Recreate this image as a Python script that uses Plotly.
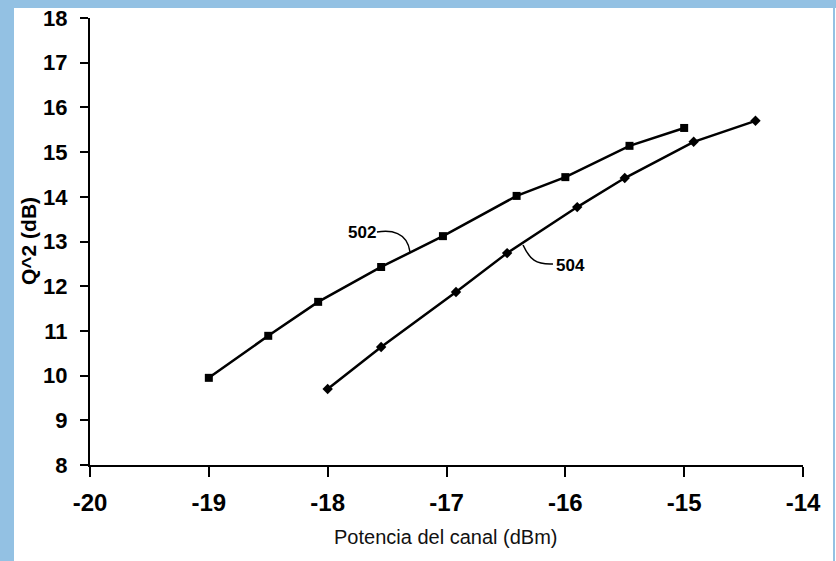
import plotly.graph_objects as go

# Data
x_502 = [-19.0, -18.5, -18.08, -17.55, -17.03, -16.41, -16.0, -15.46, -15.0]
y_502 = [9.95, 10.89, 11.65, 12.43, 13.12, 14.02, 14.44, 15.14, 15.54]

x_504 = [-18.0, -17.55, -16.92, -16.49, -15.9, -15.5, -14.92, -14.4]
y_504 = [9.70, 10.64, 11.87, 12.74, 13.77, 14.42, 15.23, 15.70]

x_ticks = [-20, -19, -18, -17, -16, -15, -14]
y_ticks = [8, 9, 10, 11, 12, 13, 14, 15, 16, 17, 18]

FONT = "Liberation Sans, Arial, sans-serif"
W, H = 836, 561
ML, MR, MT, MB = 90, 33, 18, 96
PW, PH = W - ML - MR, H - MT - MB
BORDER = "#93C1E3"


def px_x(p):
    return (p - ML) / PW


def px_y(p):
    return (H - MB - p) / PH


fig = go.Figure()
fig.add_trace(go.Scatter(x=x_502, y=y_502, mode="lines+markers",
                         line=dict(color="black", width=2.5),
                         marker=dict(symbol="square", size=8, color="black"),
                         showlegend=False))
fig.add_trace(go.Scatter(x=x_504, y=y_504, mode="lines+markers",
                         line=dict(color="black", width=2.5),
                         marker=dict(symbol="diamond", size=8, color="black"),
                         showlegend=False))

# leader curves for labels
fig.add_shape(type="path", xref="x", yref="y",
              path="M -17.585,13.21 C -17.47,13.26 -17.33,13.22 -17.307,12.765",
              line=dict(color="black", width=1.5))
fig.add_shape(type="path", xref="x", yref="y",
              path="M -16.104,12.497 C -16.25,12.48 -16.30,12.60 -16.356,12.922",
              line=dict(color="black", width=1.5))

fig.add_annotation(x=-17.71, y=13.21, xref="x", yref="y", text="502", showarrow=False,
                   xanchor="center", yanchor="middle",
                   font=dict(family=FONT, size=17, color="black", weight="bold"))
fig.add_annotation(x=-15.953, y=12.474, xref="x", yref="y", text="504", showarrow=False,
                   xanchor="center", yanchor="middle",
                   font=dict(family=FONT, size=17, color="black", weight="bold"))

# axis titles
fig.add_annotation(x=px_x(28), y=px_y(241), xref="paper", yref="paper", text="Q^2 (dB)",
                   textangle=-90, showarrow=False, xanchor="center", yanchor="middle",
                   font=dict(family=FONT, size=21, color="black", weight="bold"))
fig.add_annotation(x=px_x(445), y=px_y(537), xref="paper", yref="paper",
                   text="Potencia del canal (dBm)", showarrow=False,
                   xanchor="center", yanchor="middle",
                   font=dict(family=FONT, size=20, color="#111111"))

# blue border strips
fig.add_shape(type="rect", xref="paper", yref="paper", x0=px_x(0), x1=px_x(14),
              y0=px_y(H), y1=px_y(0), fillcolor=BORDER, line=dict(width=0), layer="below")
fig.add_shape(type="rect", xref="paper", yref="paper", x0=px_x(0), x1=px_x(W),
              y0=px_y(8), y1=px_y(0), fillcolor=BORDER, line=dict(width=0), layer="below")
fig.add_shape(type="rect", xref="paper", yref="paper", x0=px_x(833), x1=px_x(835),
              y0=px_y(H), y1=px_y(0), fillcolor=BORDER, line=dict(width=0), layer="below")

fig.update_xaxes(range=[-20, -14], tickvals=x_ticks, ticktext=[str(v) for v in x_ticks],
                 showgrid=False, zeroline=False, showline=True, linecolor="black", linewidth=2,
                 ticks="outside", ticklen=10, tickwidth=2, tickcolor="black",
                 tickfont=dict(family=FONT, size=24, color="black", weight="bold"),
                 ticklabelstandoff=5)
fig.update_yaxes(range=[8, 18], tickvals=y_ticks, ticktext=[str(v) for v in y_ticks],
                 showgrid=False, zeroline=False, showline=True, linecolor="black", linewidth=2,
                 ticks="outside", ticklen=8, tickwidth=2, tickcolor="black",
                 tickfont=dict(family=FONT, size=22, color="black", weight="bold"),
                 ticklabelstandoff=8)

fig.update_layout(width=W, height=H, margin=dict(l=ML, r=MR, t=MT, b=MB, autoexpand=False),
                  paper_bgcolor="white", plot_bgcolor="white", showlegend=False)

fig.write_html("out.html")
